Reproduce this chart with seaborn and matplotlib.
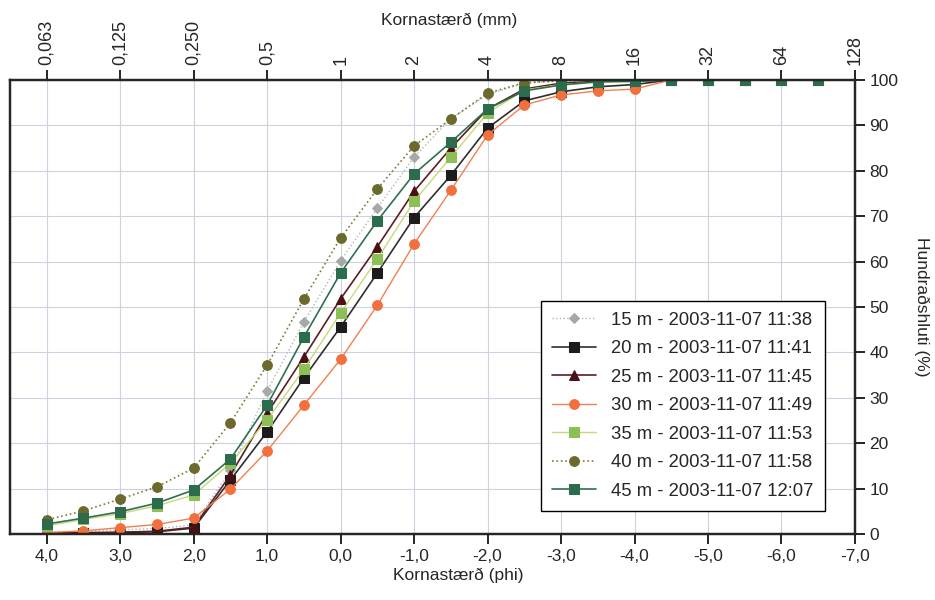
import matplotlib
matplotlib.use("Agg")
import matplotlib.pyplot as plt
import seaborn as sns

# sieve sizes in phi and the matching mm labels for the top axis
phi = [4.0, 3.5, 3.0, 2.5, 2.0, 1.5, 1.0, 0.5, 0.0, -0.5, -1.0, -1.5, -2.0, -2.5,
       -3.0, -3.5, -4.0, -4.5, -5.0, -5.5, -6.0, -6.5]
phi_ticks = [4, 3, 2, 1, 0, -1, -2, -3, -4, -5, -6, -7]
phi_labels = ["4,0", "3,0", "2,0", "1,0", "0,0", "-1,0", "-2,0", "-3,0", "-4,0", "-5,0", "-6,0", "-7,0"]
mm_labels = ["0,063", "0,125", "0,250", "0,5", "1", "2", "4", "8", "16", "32", "64", "128"]
pct_ticks = [0, 10, 20, 30, 40, 50, 60, 70, 80, 90, 100]

# cumulative percentages per sample
s15 = [0.4, 0.6, 0.9, 1.2, 2.0, 14.0, 31.5, 46.7, 60.2, 71.8, 83.0, 91.5, 96.8, 99.3, 99.8, 100, 100, 100, 100, 100, 100, 100]
s20 = [0.1, 0.2, 0.3, 0.5, 1.3, 11.9, 22.5, 34.4, 45.6, 57.5, 69.7, 79.0, 89.4, 95.4, 97.4, 98.5, 99.0, 100, 100, 100, 100, 100]
s25 = [0.2, 0.3, 0.4, 0.6, 1.5, 13.0, 26.6, 39.0, 51.8, 63.3, 75.5, 85.0, 93.6, 98.0, 99.3, 99.7, 99.8, 100, 100, 100, 100, 100]
s30 = [0.3, 0.7, 1.4, 2.1, 3.5, 9.9, 18.3, 28.4, 38.5, 50.4, 63.9, 75.7, 87.9, 94.5, 96.7, 97.6, 98.0, 100, 100, 100, 100, 100]
s35 = [1.8, 3.2, 4.5, 6.2, 8.6, 15.6, 25.1, 36.3, 48.7, 60.6, 73.3, 83.0, 92.7, 97.8, 99.0, 99.5, 99.7, 100, 100, 100, 100, 100]
s40 = [3.1, 5.1, 7.7, 10.4, 14.5, 24.5, 37.2, 51.8, 65.2, 76.0, 85.5, 91.4, 97.1, 99.4, 99.8, 100, 100, 100, 100, 100, 100, 100]
s45 = [2.2, 3.5, 4.9, 6.8, 9.7, 16.5, 28.4, 43.4, 57.5, 69.0, 79.3, 86.3, 93.6, 97.6, 98.9, 99.6, 99.7, 100, 100, 100, 100, 100]

labels = ["15 m - 2003-11-07 11:38", "20 m - 2003-11-07 11:41", "25 m - 2003-11-07 11:45",
          "30 m - 2003-11-07 11:49", "35 m - 2003-11-07 11:53", "40 m - 2003-11-07 11:58",
          "45 m - 2003-11-07 12:07"]

sns.set_style("white")
plt.rcParams["font.family"] = ["Liberation Sans", "DejaVu Sans"]

fig, ax = plt.subplots(figsize=(9.35, 6.0), dpi=100)
fig.subplots_adjust(left=0.0107, right=0.9144, bottom=0.11, top=0.8667)

# (values, marker colour, line colour, marker, linestyle, linewidth, markersize)
styles = [
    (s15, "#a8a8a8", "#b4b4b4", "D", ":", 1.0, 5.5),
    (s20, "#1c1c1c", "#2e2e2e", "s", "-", 1.2, 6.5),
    (s25, "#4a1115", "#5a1e22", "^", "-", 1.2, 7.5),
    (s30, "#f2703d", "#f2804f", "o", "-", 1.0, 7),
    (s35, "#8cbf55", "#c9d878", "s", "-", 1.0, 6.5),
    (s40, "#6b6a2c", "#7e7c3a", "o", ":", 1.2, 7),
    (s45, "#2c6b4c", "#2f6f50", "s", "-", 1.2, 6.5),
]

for (vals, mc, lc, mk, ls, lw, ms), lab in zip(styles, labels):
    sns.lineplot(x=phi, y=vals, ax=ax, color=lc, linestyle=ls, linewidth=lw,
                 marker=mk, markersize=ms, markerfacecolor=mc, markeredgecolor=mc,
                 label=lab)

ax.set_xlim(4.5, -7.0)
ax.set_ylim(0, 100)
ax.set_xticks(phi_ticks)
ax.set_xticklabels(phi_labels, fontsize=12.5)
ax.set_yticks(pct_ticks)
ax.tick_params(axis="y", labelsize=12.5)
ax.yaxis.tick_right()
ax.yaxis.set_label_position("right")
ax.tick_params(axis="x", bottom=True, top=False)
ax.tick_params(axis="y", right=True, left=False)
ax.tick_params(direction="out", length=7, width=1.2, color="black")
ax.grid(True, color="#cdd1e2", linewidth=0.8)

ax.set_xlabel("Kornastærð (phi)", fontsize=12.5)
ax.xaxis.set_label_coords(0.53, -0.075)
ax.set_ylabel("Hundraðshluti (%)", fontsize=12.5, rotation=-90, labelpad=22)

for sp in ax.spines.values():
    sp.set_color("black")
    sp.set_linewidth(1.6)

ax2 = ax.twiny()
ax2.set_xlim(ax.get_xlim())
ax2.set_xticks(phi_ticks)
ax2.set_xticklabels(mm_labels, rotation=90, fontsize=13)
ax2.tick_params(axis="x", top=True, bottom=False, direction="out", length=7,
                width=1.2, color="black")
ax2.set_xlabel("Kornastærð (mm)", fontsize=12.5)
ax2.xaxis.set_label_coords(0.52, 1.12)
for sp in ax2.spines.values():
    sp.set_linewidth(1.6)

leg = ax.legend(loc="lower right", bbox_to_anchor=(0.975, 0.031), fontsize=13.3,
                frameon=True, fancybox=False, edgecolor="black", framealpha=1,
                labelspacing=0.62, handlelength=2.4, borderpad=0.6)
leg.get_frame().set_linewidth(1.0)

fig.savefig("out.png", dpi=100)
